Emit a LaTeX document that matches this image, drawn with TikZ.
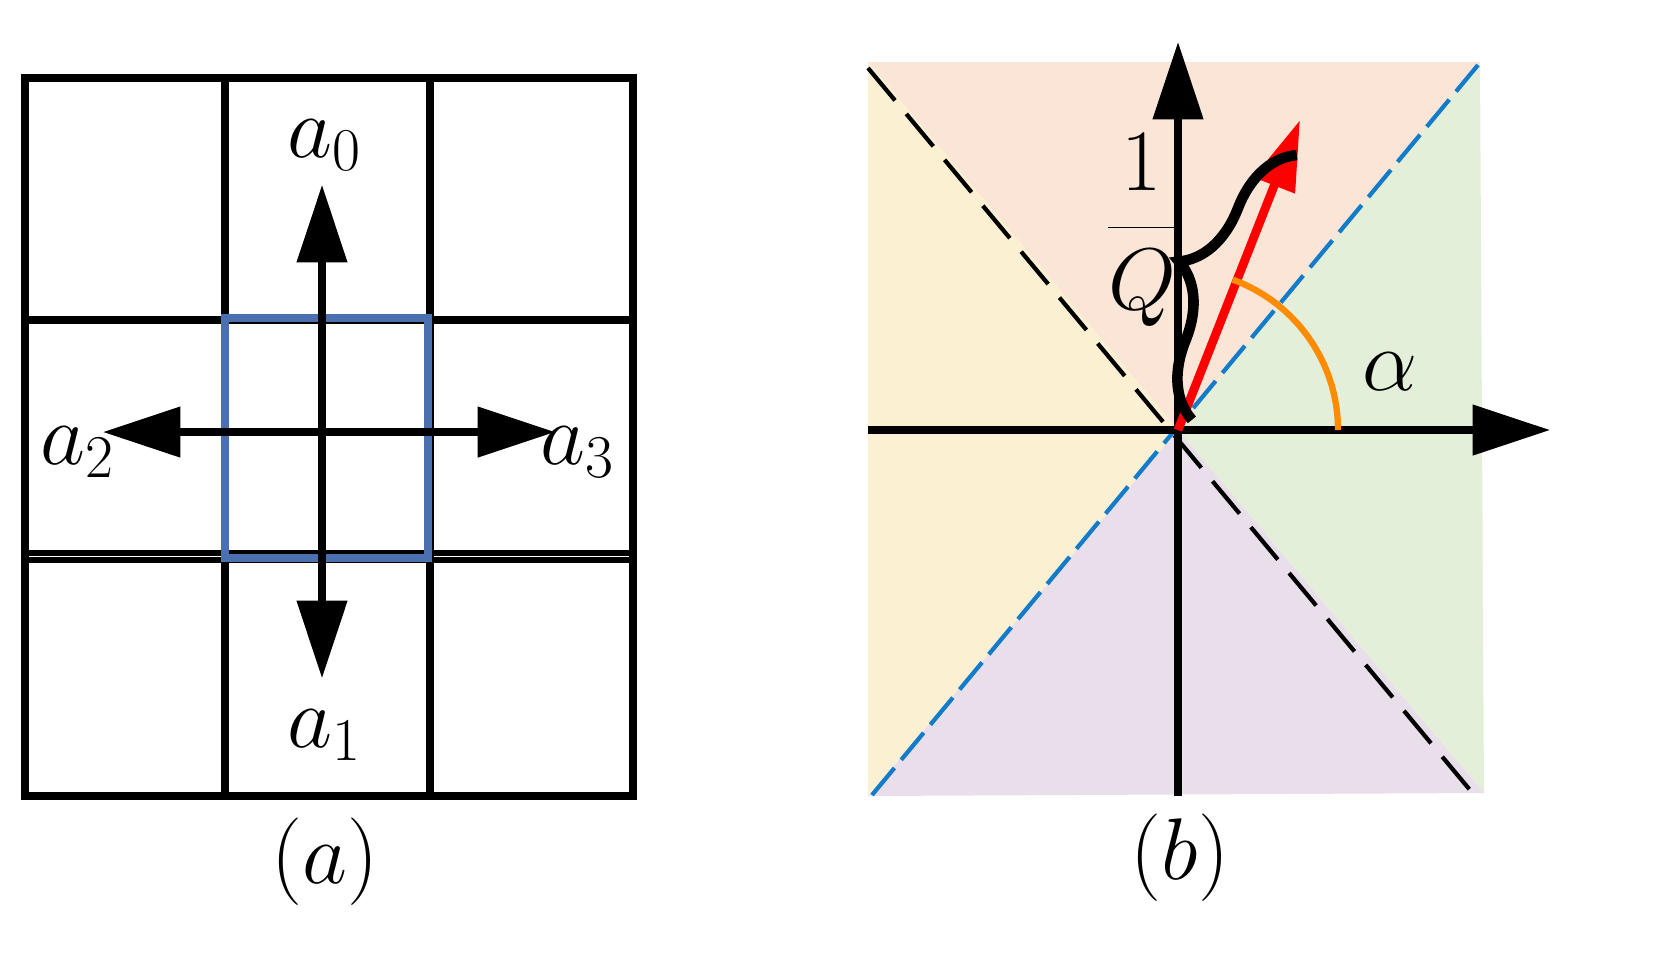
\documentclass[tikz,border=0pt]{standalone}
\usetikzlibrary{arrows.meta,decorations.pathreplacing}
\definecolor{steel}{HTML}{4A70B0}
\definecolor{peach}{HTML}{FAE5D6}
\definecolor{lgreen}{HTML}{E3EFD9}
\definecolor{lviolet}{HTML}{E9DFEA}
\definecolor{lyellow}{HTML}{FBF1D2}
\begin{document}
\begin{tikzpicture}[x=0.01cm,y=-0.01cm,
 grid/.style={line width=2.2pt,black},
 ax/.style={line width=2pt,-{Triangle[length=22pt,width=14pt]}},
 lab/.style={font=\fontsize{24}{26}\selectfont}]
\useasboundingbox (0,0) rectangle (1663,969);
% (a)
\draw[grid] (25,78) rectangle (633,796);
\draw[grid] (225,78)--(225,796) (430,78)--(430,796) (25,320)--(633,320);
\draw[line width=1.6pt] (25,553)--(633,553) (25,560)--(633,560);
\draw[line width=2pt,steel] (225,318) rectangle (428,558);
\coordinate (c) at (322,432);
\coordinate (u) at (322,185); \coordinate (d) at (322,678);
\coordinate (l) at (103,432); \coordinate (r) at (555,432);
\draw[ax] (c)--(u); \draw[ax] (c)--(d); \draw[ax] (c)--(l); \draw[ax] (c)--(r);
\node[lab] (a0) at (325,145) {$a_0$};
\node[lab] (a1) at (325,735) {$a_1$};
\node[lab] (a2) at (78,452) {$a_2$};
\node[lab] (a3) at (578,452) {$a_3$};
\node[lab] (la) at (325,862) {$(a)$};
% (b)
\coordinate (O) at (1178,430);
\coordinate (TL) at (868,62); \coordinate (TR) at (1480,62);
\coordinate (BL) at (868,796); \coordinate (BR) at (1484,793);
\fill[peach] (TL)--(TR)--(O)--cycle;
\fill[lgreen] (TR)--(BR)--(O)--cycle;
\fill[lviolet] (BR)--(BL)--(O)--cycle;
\fill[lyellow] (BL)--(TL)--(O)--cycle;
\draw[line width=1.2pt,dash pattern=on 12pt off 5pt] (868,68)--(1470,790);
\draw[line width=1.2pt,dash pattern=on 10pt off 3pt,cyan!60!blue] (872,795)--(1478,65);
\draw[line width=2pt] (1178,796)--(1178,440);
\draw[ax] (868,430)--(1550,430);
\draw[ax] (1178,440)--(1178,42);
\coordinate (tip) at (1300,120);
\draw[red,line width=2.5pt,-{Triangle[length=20pt,width=12pt]}] (O)--(tip);
\draw[orange!90!yellow,line width=1.8pt] (1338,430) arc[start angle=0,end angle=-70,radius=160];
\draw[decorate,decoration={brace,amplitude=20pt,raise=4pt},line width=3pt] (1205,425)--(1310,160);
\node[lab] (q) at (1142,230) {$\displaystyle\frac{1}{Q}$};
\node[font=\fontsize{52}{54}\selectfont] (al) at (1390,372) {$\alpha$};
\node[lab] (lb) at (1180,858) {$(b)$};
\end{tikzpicture}
\end{document}
